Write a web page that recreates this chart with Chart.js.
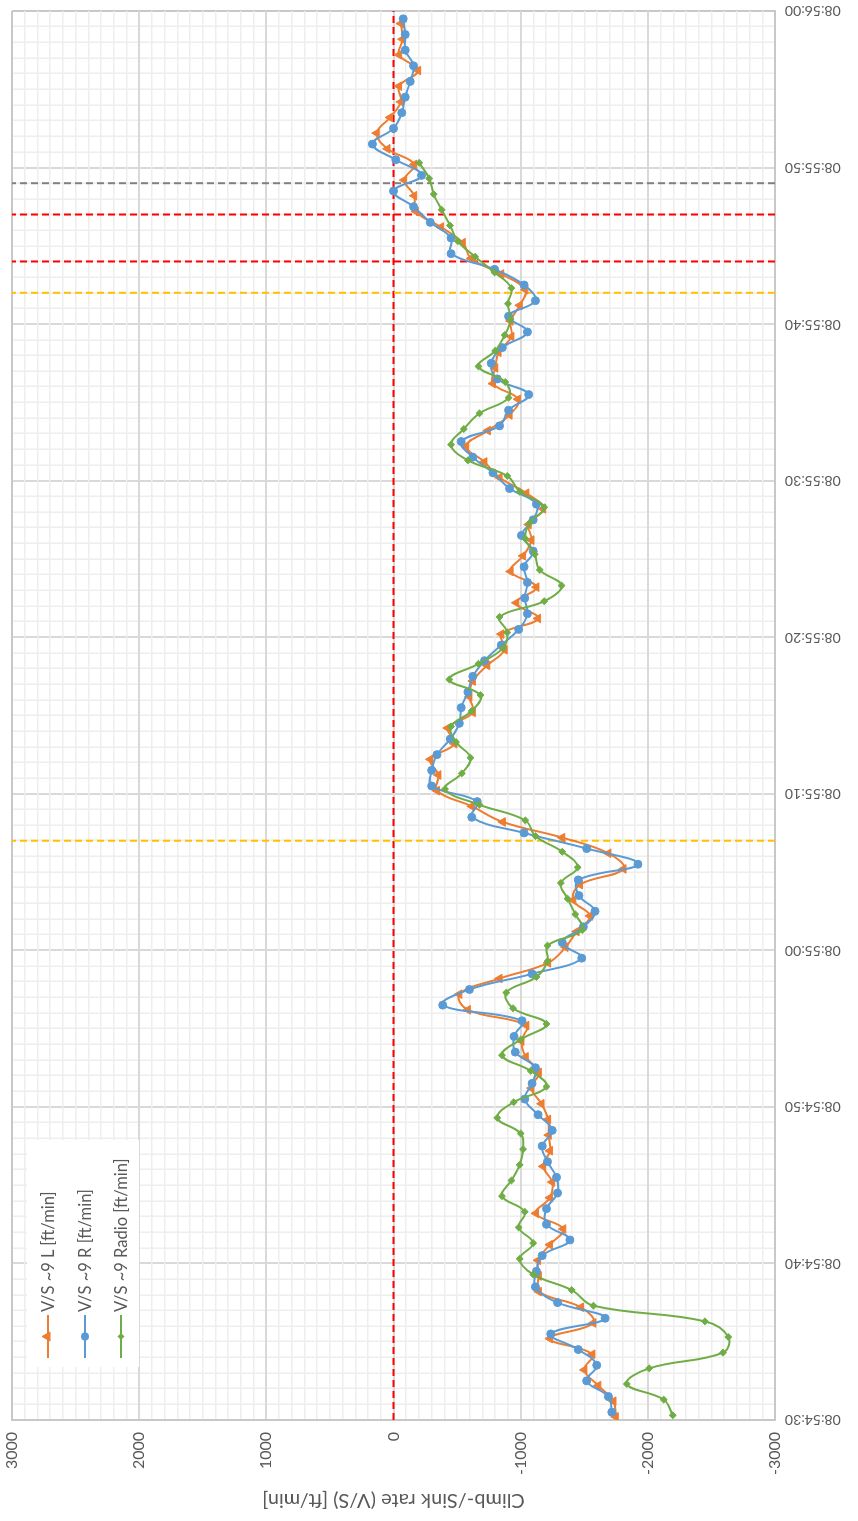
<!DOCTYPE html>
<html>
<head>
<meta charset="utf-8">
<title>V/S</title>
<script src="https://cdn.jsdelivr.net/npm/chart.js@4/dist/chart.umd.min.js"></script>
<style>
  html, body { margin: 0; padding: 0; background: #fff; overflow: hidden; }
  body { width: 858px; height: 1521px; position: relative; }
  /* the chart is laid out landscape and turned a quarter turn counter-clockwise */
  #frame {
    position: absolute; left: 0; top: 0;
    width: 1521px; height: 858px;
    transform-origin: 0 0;
    transform: translate(0, 1521px) rotate(-90deg);
  }
  #chart { display: block; }
  #legend {
    position: absolute; left: 154px; top: 27px; width: 227px; height: 112px;
    background: #fff;
    font-family: Lato, "Open Sans", sans-serif; font-size: 16.5px; color: #595959;
  }
  .item { position: absolute; left: 9px; height: 22px; display: flex; align-items: center; white-space: nowrap; }
  .item svg { margin-right: 3px; }
</style>
</head>
<body>
<div id="frame">
  <canvas id="chart" width="1521" height="858"></canvas>
  <div id="legend"></div>
</div>
<script>
// time axis labels, one every 10 s
const TIME_LABELS = ['08:54:30', '08:54:40', '08:54:50', '08:55:00', '08:55:10',
                     '08:55:20', '08:55:30', '08:55:40', '08:55:50', '08:56:00'];
// labelled values on the V/S axis
const VS_LABELS = [-3000, -2000, -1000, 0, 1000, 2000, 3000];

// first sample time of each record, seconds after 08:54:30 (1 Hz sampling)
const START_L = 0.2;
const START_R = 0.5;
const START_RADIO = 0.3;

// V/S ~9 L [ft/min]
const vsL = [
  -1748, -1730, -1611, -1501, -1564, -1230, -1572, -1474, -1143, -1143,
  -1137, -1230, -1335, -1120, -1230, -1248, -1177, -1230, -1221, -1216,
  -1164, -1085, -1143, -1040, -1006, -1045, -585, -518, -834, -1216,
  -1353, -1440, -1545, -1414, -1466, -1809, -1690, -1327, -860, -616,
  -342, -353, -290, -479, -427, -624, -597, -624, -737, -874,
  -848, -1137, -966, -1124, -921, -1019, -1085, -1063, -1177, -1045,
  -834, -715, -571, -742, -913, -980, -782, -800, -826, -927,
  -921, -993, -1037, -847, -610, -545, -373, -176, -163, -84,
  -163, 47, 132, 27, -58, -44, -194, -44, -71, -58
];

// V/S ~9 R [ft/min]
const vsR = [
  -1717, -1690, -1519, -1598, -1453, -1237, -1664, -1290, -1116, -1124,
  -1169, -1387, -1203, -1203, -1290, -1282, -1211, -1169, -1248, -1137,
  -1032, -1090, -1116, -958, -948, -1011, -387, -597, -1090, -1480,
  -1327, -1493, -1585, -1458, -1453, -1922, -1519, -1027, -616, -658,
  -300, -300, -342, -447, -518, -532, -585, -624, -716, -848,
  -984, -1053, -1032, -1053, -1027, -1098, -1006, -1098, -1124, -913,
  -782, -624, -532, -834, -905, -1063, -816, -769, -856, -1053,
  -905, -1116, -1027, -795, -453, -453, -289, -158, 0, -221,
  -18, 166, 0, -65, -92, -131, -158, -92, -92, -76
];

// V/S ~9 Radio [ft/min]
const vsRadio = [
  -2196, -2125, -1835, -2011, -2591, -2633, -2449, -1572, -1401, -1098,
  -992, -1098, -984, -1032, -853, -927, -992, -1019, -1000, -816,
  -945, -1203, -1079, -853, -1000, -1203, -940, -887, -1124, -1211,
  -1211, -1485, -1430, -1369, -1316, -1448, -1327, -1116, -1037, -676,
  -405, -537, -605, -492, -453, -616, -684, -439, -668, -860,
  -895, -834, -1185, -1322, -1150, -1111, -1037, -1071, -1185, -992,
  -895, -585, -453, -553, -676, -905, -879, -668, -800, -874,
  -921, -900, -927, -795, -642, -506, -445, -379, -316, -281,
  -202
];

// event markers (seconds after 08:54:30)
const yellowMarks = [37, 72];
const redMarks = [74, 77];
const greyMarks = [79];

const T_MIN = 0, T_MAX = 90;
const VS_MIN = -3000, VS_MAX = 3000;

const SERIES = [
  { label: 'V/S ~9 L [ft/min]',     values: vsL,     start: START_L,     color: '#ED7D31', style: 'triangle', radius: 5,   order: 3 },
  { label: 'V/S ~9 R [ft/min]',     values: vsR,     start: START_R,     color: '#5B9BD5', style: 'circle',   radius: 4,   order: 2 },
  { label: 'V/S ~9 Radio [ft/min]', values: vsRadio, start: START_RADIO, color: '#70AD47', style: 'rectRot',  radius: 3.5, order: 1 }
];

const toPoints = (values, start) => values.map((v, i) => ({ x: start + i, y: v }));

const datasets = SERIES.map(s => ({
  label: s.label,
  data: toPoints(s.values, s.start),
  borderColor: s.color,
  backgroundColor: s.color,
  borderWidth: 2,
  tension: 0.4,
  pointStyle: s.style,
  pointRadius: s.radius,
  pointBorderWidth: 1,
  order: s.order
}));

function vLine(t, color) {
  return {
    label: '', data: [{ x: t, y: VS_MIN }, { x: t, y: VS_MAX }],
    borderColor: color, borderWidth: 2, borderDash: [7, 4],
    pointRadius: 0, tension: 0, order: 10
  };
}
yellowMarks.forEach(t => datasets.push(vLine(t, '#FFC000')));
redMarks.forEach(t => datasets.push(vLine(t, '#FF0000')));
greyMarks.forEach(t => datasets.push(vLine(t, '#808080')));
datasets.push({
  label: '', data: [{ x: T_MIN, y: 0 }, { x: T_MAX, y: 0 }],
  borderColor: '#FF0000', borderWidth: 2, borderDash: [7, 4],
  pointRadius: 0, tension: 0, order: 10
});

const FONT = 'Lato, "Open Sans", sans-serif';
const TEXT = '#595959';

function gridColor(edge1, edge2, majorStep) {
  return ctx => {
    if (!ctx.tick) return '#D9D9D9';
    const v = ctx.tick.value;
    if (v === edge1 || v === edge2) return '#C8C8C8';
    return (Math.round(v) % majorStep === 0) ? '#D9D9D9' : '#EEEEEE';
  };
}
function gridWidth(edge1, edge2, majorStep) {
  return ctx => {
    if (!ctx.tick) return 1.5;
    const v = ctx.tick.value;
    if (v === edge1 || v === edge2) return 2;
    return (Math.round(v) % majorStep === 0) ? 2 : 1.5;
  };
}

new Chart(document.getElementById('chart'), {
  type: 'line',
  data: { datasets },
  options: {
    responsive: false,
    animation: false,
    devicePixelRatio: 1,
    layout: { padding: { left: 0, right: 11, top: 12, bottom: 0 } },
    plugins: {
      legend: { display: false },
      tooltip: { enabled: false }
    },
    scales: {
      x: {
        type: 'linear',
        min: T_MIN, max: T_MAX,
        afterFit: s => { s.height = 83; s.paddingLeft = 0; s.paddingRight = 0; },
        border: { display: true, color: '#C8C8C8', width: 2 },
        grid: { drawTicks: false, color: gridColor(T_MIN, T_MAX, 10), lineWidth: gridWidth(T_MIN, T_MAX, 10) },
        ticks: {
          stepSize: 1, autoSkip: false, minRotation: 90, maxRotation: 90, padding: 10,
          color: TEXT, font: { family: FONT, size: 14 },
          callback: v => (Number.isInteger(v) && v % 10 === 0) ? TIME_LABELS[v / 10] : ''
        }
      },
      y: {
        type: 'linear',
        min: VS_MIN, max: VS_MAX,
        afterFit: s => { s.width = 101; s.paddingTop = 0; s.paddingBottom = 0; },
        border: { display: true, color: '#C8C8C8', width: 2 },
        grid: { drawTicks: false, color: gridColor(VS_MIN, VS_MAX, 1000), lineWidth: gridWidth(VS_MIN, VS_MAX, 1000) },
        ticks: {
          stepSize: 100, autoSkip: false, padding: 12,
          color: TEXT, font: { family: FONT, size: 16 },
          callback: v => VS_LABELS.includes(v) ? String(v) : ''
        },
        title: {
          display: true, text: 'Climb-/Sink rate (V/S) [ft/min]',
          color: TEXT, font: { family: FONT, size: 20 },
          padding: { top: 9, bottom: 0 }
        }
      }
    }
  }
});

// legend inside the plot area
const legend = document.getElementById('legend');
const rowCenters = [21, 58, 94];
function markerSvg(s) {
  let shape;
  if (s.style === 'triangle') {
    shape = `<polygon points="21.5,-1 26,7 17,7" transform="translate(0,-1)" fill="${s.color}" stroke="${s.color}"/>`;
  } else if (s.style === 'circle') {
    shape = `<circle cx="21.5" cy="4" r="4" fill="${s.color}"/>`;
  } else {
    shape = `<polygon points="21.5,0.5 25,4 21.5,7.5 18,4" fill="${s.color}"/>`;
  }
  return `<svg width="43" height="8" viewBox="0 0 43 8" overflow="visible">
    <line x1="0" y1="4" x2="43" y2="4" stroke="${s.color}" stroke-width="2"/>${shape}</svg>`;
}
SERIES.forEach((s, i) => {
  const row = document.createElement('div');
  row.className = 'item';
  row.style.top = (rowCenters[i] - 11) + 'px';
  row.innerHTML = markerSvg(s) + `<span>${s.label}</span>`;
  legend.appendChild(row);
});
</script>
</body>
</html>
